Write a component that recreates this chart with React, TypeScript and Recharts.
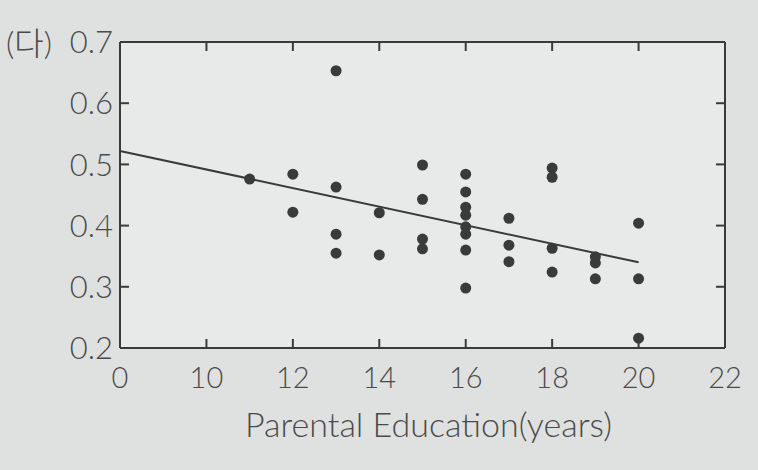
import { ScatterChart, Scatter, XAxis, YAxis, CartesianGrid } from "recharts";

const INK = "#3a3a3a";
const TEXT = "#4a4a4a";
const PAGE_BG = "#dfe1e0";
const PLOT_BG = "#e8eae9";
const FONT = "Lato, 'Liberation Sans', Arial, sans-serif";

// parental education (years) and measured score
const EDU = [
  11,
  12, 12,
  13, 13, 13, 13,
  14, 14,
  15, 15, 15, 15,
  16, 16, 16, 16, 16, 16, 16, 16,
  17, 17, 17,
  18, 18, 18, 18,
  19, 19, 19,
  20, 20, 20,
];
const SCORE = [
  0.476,
  0.484, 0.422,
  0.653, 0.463, 0.386, 0.355,
  0.421, 0.352,
  0.499, 0.443, 0.378, 0.362,
  0.484, 0.455, 0.43, 0.417, 0.398, 0.386, 0.36, 0.298,
  0.412, 0.368, 0.341,
  0.494, 0.479, 0.363, 0.324,
  0.349, 0.339, 0.313,
  0.404, 0.313, 0.216,
];

// fitted line endpoints
const FIT_X = [0, 20];
const FIT_Y = [0.522, 0.34];

const X_TICKS = [0, 10, 12, 14, 16, 18, 20, 22];
const Y_TICKS = [0.2, 0.3, 0.4, 0.5, 0.6, 0.7];

// the axis is broken between 0 and 10: 0..10 squeezed into one 2-year step
const toPos = (x: number) => (x >= 10 ? x : 8 + x * 0.2);
const fromPos = (p: number) => (p >= 10 ? p : Math.round((p - 8) * 5));

const points = EDU.map((x, i) => ({ x: toPos(x), y: SCORE[i] }));
const fit = FIT_X.map((x, i) => ({ x: toPos(x), y: FIT_Y[i] }));
const xTickPos = X_TICKS.map(toPos);

function LeftTick({ x, y, payload }: any) {
  return (
    <g>
      <line x1={x} x2={x + 9} y1={y} y2={y} stroke={INK} strokeWidth={2} />
      <text x={x - 7} y={y} dy="0.36em" textAnchor="end" fontSize={31} fontWeight={300} fill={TEXT} fontFamily={FONT}>
        {Number(payload.value).toFixed(1)}
      </text>
    </g>
  );
}

function RightTick({ x, y }: any) {
  return <line x1={x} x2={x - 9} y1={y} y2={y} stroke={INK} strokeWidth={2} />;
}

function BottomTick({ x, y, payload }: any) {
  return (
    <g>
      <line x1={x} x2={x} y1={y} y2={y - 9} stroke={INK} strokeWidth={2} />
      <text x={x} y={y + 40} textAnchor="middle" fontSize={29} fontWeight={300} fill={TEXT} fontFamily={FONT}>
        {fromPos(payload.value)}
      </text>
    </g>
  );
}

function TopTick({ x, y }: any) {
  return <line x1={x} x2={x} y1={y} y2={y + 9} stroke={INK} strokeWidth={2} />;
}

const Dot = (p: any) => <circle cx={p.cx} cy={p.cy} r={5.5} fill={INK} />;
const NoDot = () => <g />;

export default function App() {
  return (
    <div style={{ position: "absolute", left: 0, top: 0, width: 758, height: 470, background: PAGE_BG }}>
      <div
        style={{
          position: "absolute",
          left: 6,
          top: 27,
          fontSize: 32,
          fontWeight: 300,
          color: TEXT,
          fontFamily: "Lato, 'Noto Sans CJK KR', sans-serif",
          lineHeight: 1,
        }}
      >
        (다)
      </div>
      <ScatterChart width={758} height={470} margin={{ top: 0, right: 0, bottom: 0, left: 0 }}>
        <CartesianGrid horizontal={false} vertical={false} fill={PLOT_BG} xAxisId="b" yAxisId="l" />
        <XAxis
          xAxisId="b"
          dataKey="x"
          type="number"
          domain={[8, 22]}
          ticks={xTickPos}
          interval={0}
          height={122}
          tickSize={0}
          tickMargin={0}
          tickLine={false}
          axisLine={{ stroke: INK, strokeWidth: 2 }}
          tick={<BottomTick />}
          label={{
            value: "Parental Education(years)",
            position: "insideBottom",
            offset: 33,
            dx: 6,
            fontSize: 34,
            fontWeight: 300,
            fill: TEXT,
            fontFamily: FONT,
          }}
        />
        <XAxis
          xAxisId="t"
          dataKey="x"
          orientation="top"
          type="number"
          domain={[8, 22]}
          ticks={xTickPos}
          interval={0}
          height={42}
          tickSize={0}
          tickMargin={0}
          tickLine={false}
          axisLine={{ stroke: INK, strokeWidth: 2 }}
          tick={<TopTick />}
        />
        <YAxis
          yAxisId="l"
          dataKey="y"
          type="number"
          domain={[0.2, 0.7]}
          ticks={Y_TICKS}
          interval={0}
          width={120}
          tickSize={0}
          tickMargin={0}
          tickLine={false}
          axisLine={{ stroke: INK, strokeWidth: 2 }}
          tick={<LeftTick />}
        />
        <YAxis
          yAxisId="r"
          dataKey="y"
          orientation="right"
          type="number"
          domain={[0.2, 0.7]}
          ticks={Y_TICKS}
          interval={0}
          width={33}
          tickSize={0}
          tickMargin={0}
          tickLine={false}
          axisLine={{ stroke: INK, strokeWidth: 2 }}
          tick={<RightTick />}
        />
        <Scatter
          xAxisId="b"
          yAxisId="l"
          data={fit}
          line={{ stroke: INK, strokeWidth: 2 }}
          shape={NoDot}
          isAnimationActive={false}
        />
        <Scatter xAxisId="b" yAxisId="l" data={points} shape={Dot} isAnimationActive={false} />
        <Scatter xAxisId="t" yAxisId="r" data={fit} shape={NoDot} isAnimationActive={false} />
      </ScatterChart>
    </div>
  );
}
